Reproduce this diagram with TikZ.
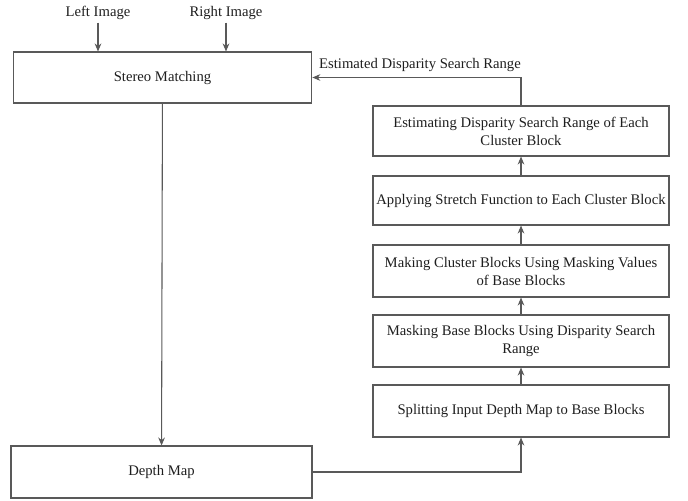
\documentclass[tikz,border=0pt]{standalone}
\usepackage{fontspec}
\setmainfont{Liberation Serif}
\usetikzlibrary{arrows.meta,positioning}
\definecolor{flowgray}{RGB}{89,89,89}
\definecolor{flowtext}{RGB}{30,30,30}
\tikzset{
  procbox/.style={draw=flowgray, line width=0.8pt, minimum width=222pt, inner xsep=1pt, inner ysep=1pt, align=center, text=flowtext, font=\fontsize{11}{13.5}\selectfont},
  inlabel/.style={text=flowtext, inner sep=2pt, font=\fontsize{11}{13.5}\selectfont},
  flow/.style={draw=flowgray, line width=0.8pt, -{Stealth[length=6pt,width=5pt]}}
}

\begin{document}
\begin{tikzpicture}[x=0.75pt,y=-0.75pt]
\useasboundingbox (0,0) rectangle (688,500);
% Left column
\node[procbox, minimum width=224pt, minimum height=38.25pt] (stereo) at (162.5,77.5) {Stereo Matching};
\node[procbox, minimum width=225.75pt, minimum height=39pt] (depth) at (161.5,472) {Depth Map};
% Inputs
\node[inlabel] (limg) at (98,13) {Left Image};
\node[inlabel] (rimg) at (226,13) {Right Image};
% Right column (bottom to top)
\node[procbox, minimum height=39pt] (split) at (521,411) {Splitting Input Depth Map to Base Blocks};
\node[procbox, minimum height=39pt] (mask) at (521,341) {Masking Base Blocks Using Disparity Search\\Range};
\node[procbox, minimum height=39pt] (make) at (521,271) {Making Cluster Blocks Using Masking Values\\of Base Blocks};
\node[procbox, minimum height=36.75pt] (apply) at (521,200.5) {Applying Stretch Function to Each Cluster Block};
\node[procbox, minimum height=37.5pt] (est) at (521,131) {Estimating Disparity Search Range of Each\\Cluster Block};
\node[inlabel] (rangelbl) at (420,65) {Estimated Disparity Search Range};
% Connectors
\draw[flow] (limg.south) -- (limg.south |- stereo.north);
\draw[flow] (rimg.south) -- (rimg.south |- stereo.north);
\draw[flow] (stereo) -- (depth);
\draw[flow] (depth.east) -| (split.south);
\foreach \a/\b in {split/mask,mask/make,make/apply,apply/est}
  \draw[flow] (\a) -- (\b);
\draw[flow] (est.north) |- (stereo.east);
\end{tikzpicture}
\end{document}
